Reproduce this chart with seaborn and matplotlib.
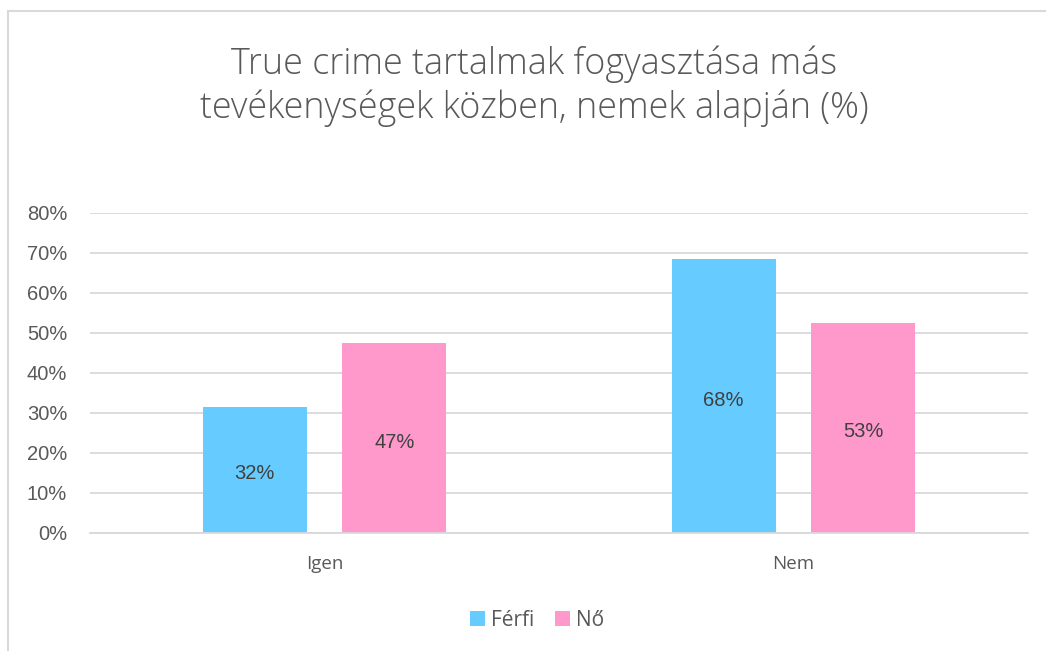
import matplotlib
matplotlib.use("Agg")
import matplotlib.pyplot as plt
import seaborn as sns
import pandas as pd
from matplotlib.lines import Line2D
from matplotlib.patches import Patch

categories = ["Igen", "Nem"]
genders = ["Férfi", "Nő"]
ferfi = [0.316, 0.684]
no = [0.474, 0.526]
ytick_values = [0, 0.1, 0.2, 0.3, 0.4, 0.5, 0.6, 0.7, 0.8]
title = "True crime tartalmak fogyasztása más\ntevékenységek közben, nemek alapján (%)"

df = pd.DataFrame({
    "cat": categories * 2,
    "gender": [genders[0]] * 2 + [genders[1]] * 2,
    "val": ferfi + no,
})

sns.set_theme(style="white")
plt.rcParams["font.family"] = ["Liberation Sans", "DejaVu Sans"]

colors = {"Férfi": "#66CCFF", "Nő": "#FF99CC"}
fig = plt.figure(figsize=(10.46, 6.51), dpi=100)
ax = fig.add_axes([90 / 1046, (651 - 533) / 651, (1028 - 90) / 1046, (533 - 213) / 651])

sns.barplot(data=df, x="cat", y="val", hue="gender", hue_order=genders,
            palette=colors, width=0.595, gap=0.254, ax=ax, legend=False,
            saturation=1, edgecolor="none", linewidth=0)

ax.set_ylim(0, 0.8)
ax.set_xlim(-0.5, 1.5)
ax.set_yticks(ytick_values)
ax.set_yticklabels([f"{int(round(v * 100))}%" for v in ytick_values],
                   fontsize=14.5, color="#595959")
ax.set_xticks(range(len(categories)))
ax.set_xticklabels(categories, fontsize=13.5, color="#595959", family="Open Sans")
ax.tick_params(axis="y", length=0, pad=16.5)
ax.tick_params(axis="x", length=0, pad=15.5)
ax.set_xlabel("")
ax.set_ylabel("")
ax.grid(axis="y", color="#D9D9D9", linewidth=1.3)
ax.set_axisbelow(True)
for s in ["top", "right", "left"]:
    ax.spines[s].set_visible(False)
ax.spines["bottom"].set_color("#D9D9D9")
ax.spines["bottom"].set_linewidth(1.3)

for cont in ax.containers:
    ax.bar_label(cont, labels=[f"{round(b.get_height() * 100):.0f}%" for b in cont],
                 label_type="center", fontsize=14.5, color="#404040", padding=-3)

fig.text(534 / 1046, 1 - 86 / 651, title, ha="center", va="center",
         fontsize=25.8, color="#595959", family="Open Sans", fontweight="light",
         linespacing=1.22)

handles = [Patch(facecolor=colors[g], edgecolor="none") for g in genders]
fig.legend(handles, genders, loc="center", bbox_to_anchor=(537 / 1046, 1 - 620 / 651),
           ncol=2, frameon=False, prop={"family": "Open Sans", "size": 15},
           handlelength=0.7, handleheight=0.7, handletextpad=0.3,
           columnspacing=1.0, labelcolor="#595959")

fig.add_artist(Line2D([8 / 1046, 8 / 1046], [0, 1 - 11 / 651], color="#D9D9D9",
                      linewidth=1.5, transform=fig.transFigure))
fig.add_artist(Line2D([8 / 1046, 1], [1 - 11 / 651, 1 - 11 / 651], color="#D9D9D9",
                      linewidth=1.5, transform=fig.transFigure))

fig.savefig("out.png", dpi=100, facecolor="white")
